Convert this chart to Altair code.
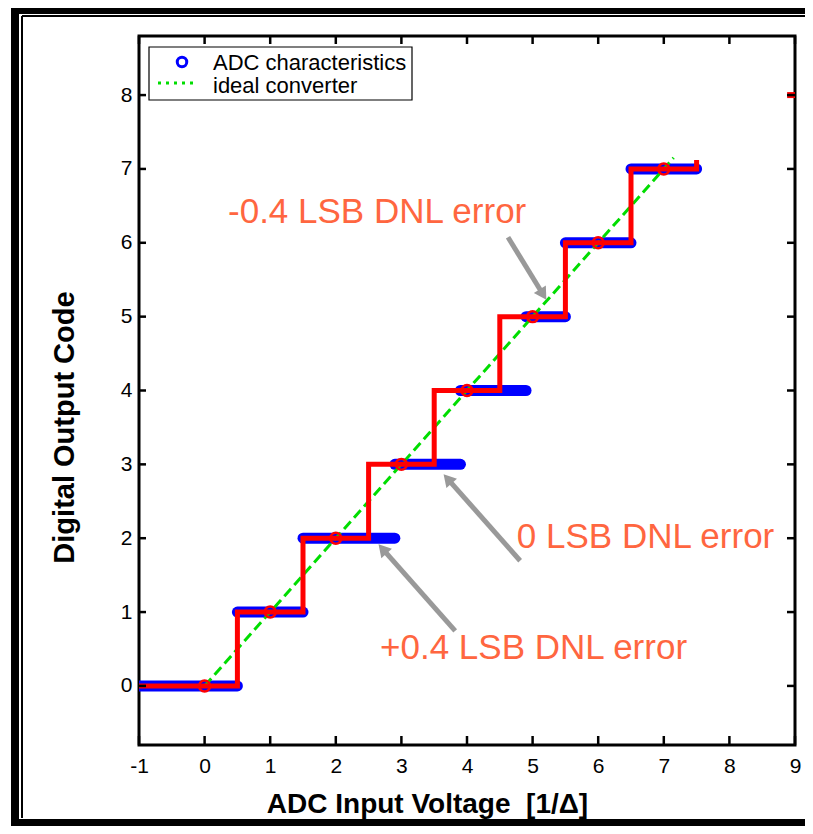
import altair as alt
import pandas as pd

# ---------------- data ----------------
codes = [0, 1, 2, 3, 4, 5, 6, 7]
code_start = [-1.0, 0.5, 1.5, 2.9, 3.9, 4.9, 5.5, 6.5]
code_end = [0.5, 1.5, 2.9, 3.9, 4.9, 5.5, 6.5, 7.5]

stair_x = [-1, 0.5, 0.5, 1.5, 1.5, 2.5, 2.5, 3.5, 3.5, 4.5, 4.5, 5.5, 5.5, 6.5, 6.5, 7.5, 7.5]
stair_y = [0, 0, 1, 1, 2, 2, 3, 3, 4, 4, 5, 5, 6, 6, 7, 7, 7.12]

center_x = [0, 1, 2, 3, 4, 5, 6, 7]
center_y = [0, 1, 2, 3, 4, 5, 6, 7]

ideal_x = [0, 7.15]
ideal_y = [0, 7.15]

edge_x = [8.88, 9.2]
edge_y = [8, 8]

ann_labels = ["-0.4 LSB DNL error", "0 LSB DNL error", "+0.4 LSB DNL error"]
ann_x = [0.357, 4.76, 2.674]
ann_y = [6.264, 1.871, 0.366]

arrow_tail_x = [4.625, 4.81, 3.82]
arrow_tail_y = [6.075, 1.695, 0.746]
arrow_head_x = [5.16, 3.705, 2.713]
arrow_head_y = [5.30, 2.804, 1.855]
arrow_angle = [148, 318.5, 318.5]

x_ticks = list(range(-1, 10))
y_ticks = list(range(0, 9))

legend_labels = ["ADC characteristics", "ideal converter"]

x_title = "ADC Input Voltage \u00a0[1/\u0394]"
y_title = "Digital Output Code"

# ---------------- styling ----------------
W, H = 656, 709
FONT = "Liberation Sans"
BLUE = "#0000ff"
RED = "#ff0000"
GREEN = "#00dd00"
ORANGE = "#ff6640"
GRAY = "#999999"

xs = alt.Scale(domain=[-1, 9], nice=False, zero=False)
ys = alt.Scale(domain=[-0.8, 8.8], nice=False, zero=False)

bands = pd.DataFrame({"code": codes, "x": code_start, "x2": code_end, "y": codes})
stairs = pd.DataFrame({"x": stair_x, "y": stair_y, "i": range(len(stair_x))})
centers = pd.DataFrame({"x": center_x, "y": center_y})
ideal = pd.DataFrame({"x": ideal_x, "y": ideal_y})
edge = pd.DataFrame({"x": edge_x, "y": edge_y})
ann = pd.DataFrame({"x": ann_x, "y": ann_y, "label": ann_labels})
arrows = pd.DataFrame({"x": arrow_tail_x, "y": arrow_tail_y,
                       "x2": arrow_head_x, "y2": arrow_head_y, "angle": arrow_angle})
xt = pd.DataFrame({"x": x_ticks})
yt = pd.DataFrame({"y": y_ticks})
one = pd.DataFrame({"a": [0]})

x_axis = alt.Axis(values=x_ticks, title=x_title, titleFont=FONT, titleFontSize=28,
                  titleFontWeight="bold", titleColor="black", titleX=288, titleY=67,
                  titleAlign="center", titleBaseline="alphabetic",
                  labelFont=FONT, labelFontSize=21, labelColor="black", labelPadding=10,
                  labelExpr="'' + datum.value",
                  ticks=False, tickSize=0, domain=False, grid=False,
                  labelFlush=False, labelOverlap=False)
y_axis = alt.Axis(values=y_ticks, title=y_title, titleFont=FONT, titleFontSize=29,
                  titleFontWeight="bold", titleColor="black", titleAngle=270,
                  titleX=-66, titleY=391, titleAlign="center", titleBaseline="alphabetic",
                  labelFont=FONT, labelFontSize=21, labelColor="black", labelPadding=7,
                  labelExpr="'' + datum.value",
                  ticks=False, tickSize=0, domain=False, grid=False,
                  labelFlush=False, labelOverlap=False)


def X(f="x:Q"):
    return alt.X(f, scale=xs, axis=x_axis, title=x_title)


def Y(f="y:Q"):
    return alt.Y(f, scale=ys, axis=y_axis, title=y_title)


band_layer = alt.Chart(bands).mark_rule(color=BLUE, strokeWidth=11, strokeCap="round", clip=True).encode(
    x=X(), x2="x2:Q", y=Y())

ideal_layer = alt.Chart(ideal).mark_line(color=GREEN, strokeWidth=3, strokeDash=[10, 5], clip=True).encode(
    x=X(), y=Y())

stair_layer = alt.Chart(stairs).mark_line(color=RED, strokeWidth=5, strokeJoin="miter", clip=True).encode(
    x=X(), y=Y(), order="i:Q")

edge_layer = alt.Chart(edge).mark_line(color=RED, strokeWidth=6, clip=True).encode(
    x=X(), y=Y())

center_layer = alt.Chart(centers).mark_point(shape="circle", filled=False, color=RED, size=120,
                                             strokeWidth=2.5, opacity=1).encode(
    x=X(), y=Y())

arrow_shaft = alt.Chart(arrows).mark_rule(color=GRAY, strokeWidth=5).encode(
    x=X(), y=Y(), x2="x2:Q", y2="y2:Q")

arrow_head = alt.Chart(arrows).mark_point(shape="triangle-up", filled=True, color=GRAY,
                                          size=200, opacity=1).encode(
    x=X("x2:Q"), y=Y("y2:Q"), angle=alt.Angle("angle:Q", scale=None))

ann_layer = alt.Chart(ann).mark_text(font=FONT, fontSize=35, color=ORANGE, align="left",
                                     baseline="alphabetic").encode(
    x=X(), y=Y(), text="label:N")

# inward box ticks on all four sides
tick_bottom = alt.Chart(xt).mark_rule(color="black", strokeWidth=2.5).encode(
    x=X(), y=alt.value(H), y2=alt.value(H - 9))
tick_top = alt.Chart(xt).mark_rule(color="black", strokeWidth=2.5).encode(
    x=X(), y=alt.value(0), y2=alt.value(8))
tick_left = alt.Chart(yt).mark_rule(color="black", strokeWidth=2.5).encode(
    y=Y(), x=alt.value(0), x2=alt.value(7))
tick_right = alt.Chart(yt).mark_rule(color="black", strokeWidth=2.5).encode(
    y=Y(), x=alt.value(W), x2=alt.value(W - 8))

# legend box
leg_box = alt.Chart(one).mark_rect(fill="white", stroke="black", strokeWidth=1.2).encode(
    x=alt.value(10), x2=alt.value(273), y=alt.value(11), y2=alt.value(64))
leg_sym1 = alt.Chart(one).mark_point(shape="circle", filled=False, color=BLUE, size=90,
                                     strokeWidth=3, opacity=1).encode(
    x=alt.value(43), y=alt.value(26))
leg_sym2 = alt.Chart(one).mark_rule(color=GREEN, strokeWidth=3, strokeDash=[3, 5]).encode(
    x=alt.value(19), x2=alt.value(59), y=alt.value(47))
leg_txt1 = alt.Chart(one).mark_text(font=FONT, fontSize=22, color="black", align="left",
                                    baseline="alphabetic").encode(
    x=alt.value(74), y=alt.value(34), text=alt.value(legend_labels[0]))
leg_txt2 = alt.Chart(one).mark_text(font=FONT, fontSize=22, color="black", align="left",
                                    baseline="alphabetic").encode(
    x=alt.value(74), y=alt.value(57), text=alt.value(legend_labels[1]))

# decorative slide frame
fr_left = alt.Chart(one).mark_rule(color="black", strokeWidth=8).encode(
    x=alt.value(-124), y=alt.value(-40), y2=alt.value(800))
fr_top = alt.Chart(one).mark_rule(color="black", strokeWidth=8).encode(
    x=alt.value(-128), x2=alt.value(680), y=alt.value(-26))
fr_bottom = alt.Chart(one).mark_rule(color="black", strokeWidth=7).encode(
    x=alt.value(-128), x2=alt.value(680), y=alt.value(786.5))
fr_thin_left = alt.Chart(one).mark_rule(color="black", strokeWidth=2).encode(
    x=alt.value(-117), y=alt.value(-20), y2=alt.value(782))
fr_thin_top = alt.Chart(one).mark_rule(color="black", strokeWidth=2).encode(
    x=alt.value(-117), x2=alt.value(680), y=alt.value(-20))

chart = alt.layer(
    band_layer, ideal_layer, stair_layer, edge_layer, center_layer,
    arrow_shaft, arrow_head, ann_layer,
    tick_bottom, tick_top, tick_left, tick_right,
    leg_box, leg_sym1, leg_sym2, leg_txt1, leg_txt2,
    fr_left, fr_top, fr_bottom, fr_thin_left, fr_thin_top,
).properties(
    width=W, height=H,
    padding={"left": 131, "top": 28, "right": 10, "bottom": 81},
    autosize=alt.AutoSizeParams(type="none"),
).configure_view(stroke="black", strokeWidth=3)

chart.save("out.html", embed_options={"renderer": "svg", "actions": False})
